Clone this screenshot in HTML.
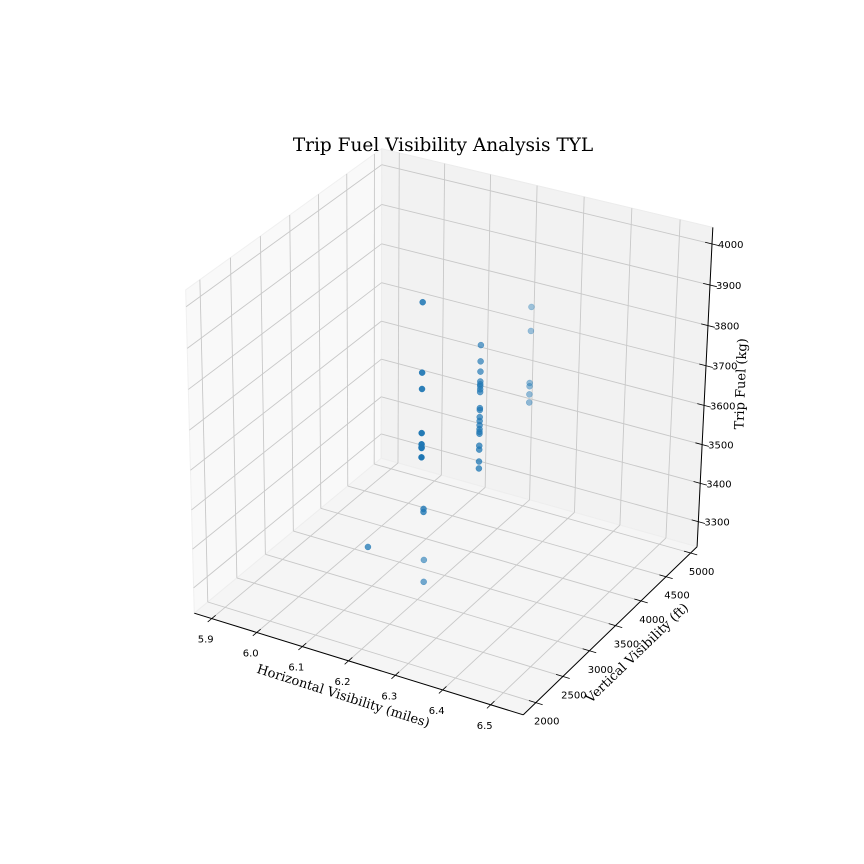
<!DOCTYPE html>
<html><head><meta charset="utf-8"><style>
body{margin:0;background:#fff}
svg{display:block}
.tk{font-family:"DejaVu Sans","Liberation Sans",sans-serif;font-size:10px;fill:#000}
.lb{font-family:"DejaVu Serif","Liberation Serif",serif;font-size:13px;fill:#000}
</style></head><body>
<svg id="chart" width="864" height="864" viewBox="0 0 864 864">
<text x="443" y="151" text-anchor="middle" class="lb" style="font-size:18.5px">Trip Fuel Visibility Analysis TYL</text>
<g id="panes"></g>
<g id="grid"></g>
<g id="axes"></g>
<g id="pts"></g>
<text class="lb" transform="translate(342,700) rotate(17.7)" text-anchor="middle">Horizontal Visibility (miles)</text>
<text class="lb" transform="translate(640,656) rotate(-44)" text-anchor="middle">Vertical Visibility (ft)</text>
<text class="lb" transform="translate(745,384) rotate(-88)" text-anchor="middle">Trip Fuel (kg)</text>
</svg>
<script>
const xTicks=[5.9,6.0,6.1,6.2,6.3,6.4,6.5];
const yTicks=[2000,2500,3000,3500,4000,4500,5000];
const zTicks=[3300,3400,3500,3600,3700,3800,3900,4000];
const xLim=[5.861,6.567];
const yLim=[1771,5134];
const zLim=[3234,4040];
const horizVis=[5.97,5.97,5.97,5.97,5.97,5.97,5.97,5.97,
 6.18,6.18,6.18,6.18,6.18,6.18,6.18,6.18,6.18,6.18,6.18,6.18,6.18,6.18,6.18,6.18,6.18,6.18,6.18,6.18,
 6.363,6.363,6.363,6.363,6.363,6.363,
 6.2,6.2,6.09,6.09,6.03];
const vertVis=[5000,5000,5000,5000,5000,5000,5000,5000,
 4300,4300,4300,4300,4300,4300,4300,4300,4300,4300,4300,4300,4300,4300,4300,4300,4300,4300,4300,4300,
 3600,3600,3600,3600,3600,3600,
 3113,3113,4031,4031,3500];
const tripFuel=[3696,3513,3470,3353,3323,3315,3313,3288,
 3726,3685,3659,3634,3627,3622,3614,3607,3566,3561,3543,3533,3522,3512,3505,3500,3469,3459,3428,3410,
 3951,3893,3766,3758,3738,3718,
 3323,3266,3306,3298,3250];

const C=[[0,0,0,197,612],[1,0,0,523,716],[1,1,0,699,545],[1,1,1,711,228],[0,1,1,386,148],[0,0,1,183,290],[0,1,0,377,460]];
function solve(A,b){const n=b.length;const M=A.map((r,i)=>r.concat([b[i]]));
 for(let i=0;i<n;i++){let p=i;for(let k=i+1;k<n;k++)if(Math.abs(M[k][i])>Math.abs(M[p][i]))p=k;[M[i],M[p]]=[M[p],M[i]];
  for(let k=0;k<n;k++){if(k===i)continue;const f=M[k][i]/M[i][i];for(let j=i;j<=n;j++)M[k][j]-=f*M[i][j];}}
 return M.map((r,i)=>r[n]/r[i]);}
const rows=[],rhs=[];
C.forEach(([X,Y,Z,u,v])=>{rows.push([X,Y,Z,1,0,0,0,0,-u*X,-u*Y,-u*Z]);rhs.push(u);rows.push([0,0,0,0,X,Y,Z,1,-v*X,-v*Y,-v*Z]);rhs.push(v);});
const AtA=[],Atb=[];
for(let i=0;i<11;i++){AtA.push([]);let s=0;for(let r=0;r<rows.length;r++)s+=rows[r][i]*rhs[r];Atb.push(s);
 for(let j=0;j<11;j++){let t=0;for(let r=0;r<rows.length;r++)t+=rows[r][i]*rows[r][j];AtA[i].push(t);}}
const P=solve(AtA,Atb);
function projF(a,b,c){const w=P[8]*a+P[9]*b+P[10]*c+1;return [(P[0]*a+P[1]*b+P[2]*c+P[3])/w,(P[4]*a+P[5]*b+P[6]*c+P[7])/w];}
const fx=x=>(x-xLim[0])/(xLim[1]-xLim[0]);
const fy=y=>(y-yLim[0])/(yLim[1]-yLim[0]);
const fz=z=>(z-zLim[0])/(zLim[1]-zLim[0]);
const NS='http://www.w3.org/2000/svg';
function mk(parent,tag,attrs){const e=document.createElementNS(NS,tag);for(const k in attrs)e.setAttribute(k,attrs[k]);parent.appendChild(e);return e;}
function poly(pts){return pts.map(p=>projF(...p).map(v=>v.toFixed(2)).join(',')).join(' ');}
const panes=document.getElementById('panes');
let pe;
pe=mk(panes,'polygon',{points:poly([[0,0,0],[0,1,0],[0,1,1],[0,0,1]]),fill:'#f9f9f9',stroke:'#f0f0f0'});

pe=mk(panes,'polygon',{points:poly([[0,1,0],[1,1,0],[1,1,1],[0,1,1]]),fill:'#f2f2f2',stroke:'#ececec'});

pe=mk(panes,'polygon',{points:poly([[0,0,0],[1,0,0],[1,1,0],[0,1,0]]),fill:'#f5f5f5',stroke:'#eeeeee'});

const grid=document.getElementById('grid');
function gl(a,b,name){const p=projF(...a),q=projF(...b);const l=mk(grid,'line',{x1:p[0],y1:p[1],x2:q[0],y2:q[1],stroke:'#c8c8c8','stroke-width':0.9});
 
 }
xTicks.forEach(t=>{const u=fx(t);gl([u,0,0],[u,1,0],'floor-grid-x');gl([u,1,0],[u,1,1],'back-grid-x');});
yTicks.forEach(t=>{const v=fy(t);gl([0,v,0],[1,v,0],'floor-grid-y');gl([0,v,0],[0,v,1],'left-grid-y');});
zTicks.forEach(t=>{const w=fz(t);gl([0,0,w],[0,1,w],'left-grid-z');gl([0,1,w],[1,1,w],'back-grid-z');});
const axes=document.getElementById('axes');
function al(a,b,name,w){const p=projF(...a),q=projF(...b);const l=mk(axes,'line',{x1:p[0],y1:p[1],x2:q[0],y2:q[1],stroke:'#000','stroke-width':w});
 
 }
al([0,0,0],[1,0,0],'x-axis-line',1);al([1,0,0],[1,1,0],'y-axis-line',1);al([1,1,0],[1,1,1],'z-axis-line',1);
function tl(x,y,txt,anchor,name){const t=mk(axes,'text',{x:x,y:y,'text-anchor':anchor,class:'tk'});t.textContent=txt;
 
 }
xTicks.forEach(t=>{const u=fx(t);al([u,-0.02,0],[u,0.02,0],'x-tick',0.8);const p=projF(u,0,0);tl(p[0]-6,p[1]+24,t.toFixed(1),'middle','x-tick-label');});
yTicks.forEach(t=>{const v=fy(t);al([0.98,v,0],[1.02,v,0],'y-tick',0.8);const p=projF(1,v,0);tl(p[0]+11,p[1]+22,String(t),'middle','y-tick-label');});
zTicks.forEach(t=>{const w=fz(t);al([0.98,1,w],[1.02,1,w],'z-tick',0.8);const p=projF(1,1,w);tl(p[0]+6,p[1]+4,String(t),'start','z-tick-label');});
const pts=document.getElementById('pts');
const depth=horizVis.map((x,i)=>0.433*4*fx(x)-0.75*4*fy(vertVis[i])+0.5*3*fz(tripFuel[i]));
const dmin=Math.min(...depth),dmax=Math.max(...depth);
const order=horizVis.map((_,i)=>i).sort((a,b)=>depth[a]-depth[b]);
order.forEach(i=>{const p=projF(fx(horizVis[i]),fy(vertVis[i]),fz(tripFuel[i]));
 const a=1-0.6*(depth[i]-dmin)/(dmax-dmin);
 const c=mk(pts,'circle',{cx:p[0],cy:p[1],r:3,fill:'#1f77b4','fill-opacity':a,stroke:'#1f77b4','stroke-opacity':a,'stroke-width':0.5});
 
 });
</script>
</body></html>
